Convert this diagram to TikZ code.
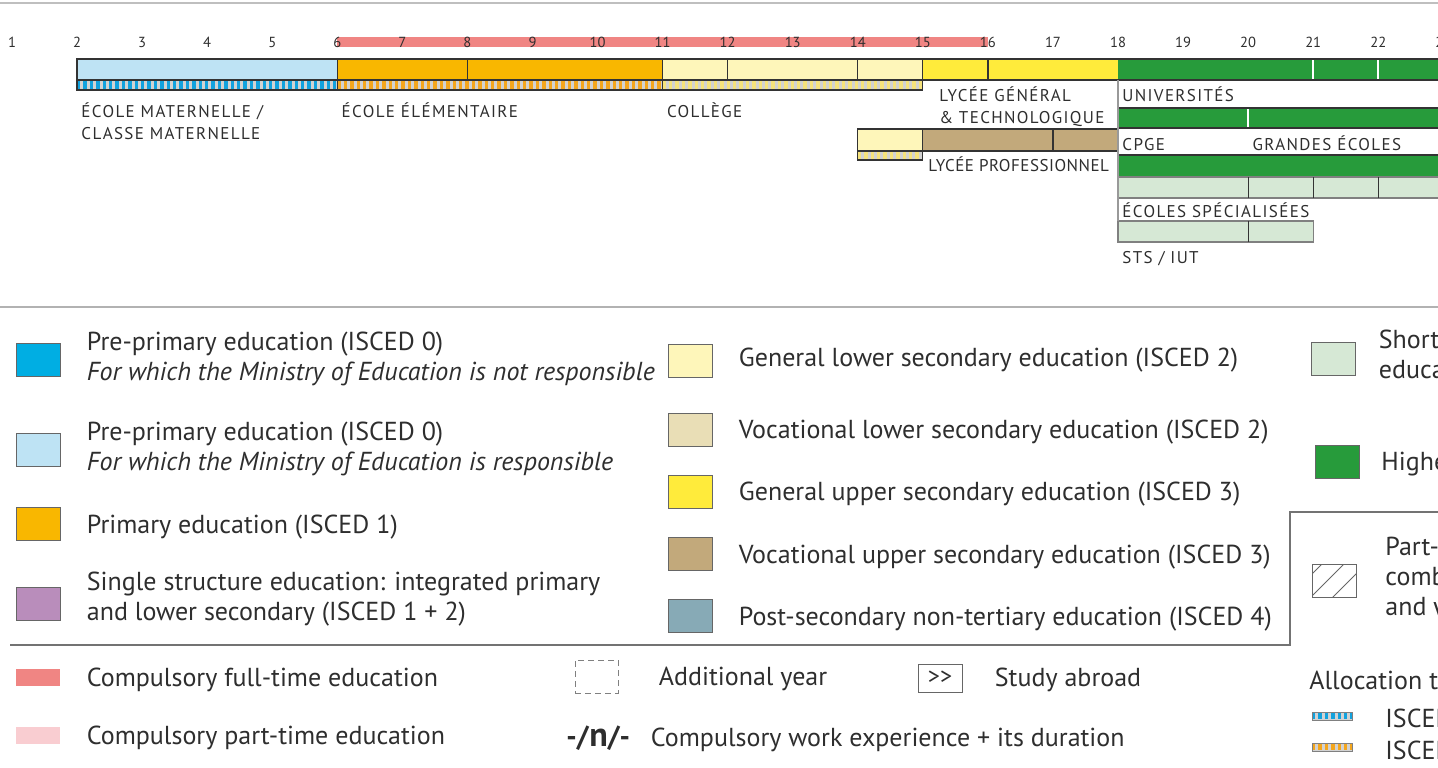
\documentclass[tikz,border=0pt]{standalone}
\usepackage{fontspec}
\setmainfont{PT Sans}
\usetikzlibrary{positioning}

\definecolor{preblue}{HTML}{00AEE3}
\definecolor{prelight}{HTML}{BEE3F4}
\definecolor{primorange}{HTML}{F9B700}
\definecolor{singlepurple}{HTML}{B98DBB}
\definecolor{lowgen}{HTML}{FEF6BA}
\definecolor{lowvoc}{HTML}{E9DEB6}
\definecolor{uppgen}{HTML}{FFEB3B}
\definecolor{uppvoc}{HTML}{C2A97B}
\definecolor{postsec}{HTML}{87AAB6}
\definecolor{shortter}{HTML}{D6E8D5}
\definecolor{highgreen}{HTML}{279B3B}
\definecolor{compfull}{HTML}{F08583}
\definecolor{comppart}{HTML}{F9CDD1}
\definecolor{stripgray}{HTML}{D2D2D2}
\definecolor{stripblue}{HTML}{12A2DE}
\definecolor{striporange}{HTML}{F4A61D}
\definecolor{stripyellow}{HTML}{F5E27C}
\definecolor{txt}{HTML}{2E2E2E}

\begin{document}
\begin{tikzpicture}[x=0.5pt, y=-0.5pt,
    bar/.style={draw=black!80, line width=0.6pt},
    strip/.style={line width=3.8pt, dash pattern=on 1.7pt off 1.5pt},
    age/.style={inner sep=0pt, text=txt, font=\fontsize{7.3}{8}\selectfont},
    lab/.style={anchor=base west, inner sep=0pt, align=left, text=txt, font=\fontsize{8.5}{11}\selectfont\addfontfeature{LetterSpace=8}},
    key/.style={draw=black!60, line width=0.5pt, minimum width=22pt, minimum height=16.5pt, inner sep=0pt},
    legtxt/.style={inner sep=0pt, align=left, text=txt, yshift=-1pt, font=\fontsize{13}{15}\selectfont}]
    \useasboundingbox (0,0) rectangle (1438,767);
    \clip (0,0) rectangle (1438,767);
    \draw[black!25, line width=1pt] (0,3) -- (1438,3);

    % Chart {ages, bars, school names}
    \begin{scope}[x=32.53pt, xshift=-26.53pt]
    \fill[compfull] (6,37) rectangle (16,47);
    \foreach \a in {1,...,23}
        \node[age] (age\a) at (\a,42) {\a};

    \fill[prelight]   (2,59)  rectangle (6,80);
    \fill[primorange] (6,59)  rectangle (11,80);
    \fill[lowgen]     (11,59) rectangle (15,80);
    \fill[uppgen]     (15,59) rectangle (18,80);
    \fill[highgreen]  (18,59) rectangle (23.5,80);
    \draw[bar] (2,59) rectangle (23.5,80);
    \foreach \a in {6,8,11,12,14,15,16}
        \draw[bar] (\a,59) -- (\a,80);
    \foreach \a in {21,22}
        \draw[white, line width=0.8pt] (\a,60) -- (\a,79);

    \fill[stripgray] (2,80) rectangle (15,90);
    \draw[strip, stripblue]   (2,85)  -- (6,85);
    \draw[strip, striporange] (6,85)  -- (11,85);
    \draw[strip, stripyellow] (11,85) -- (15,85);
    \draw[bar] (2,80) rectangle (15,90);
    \draw[bar] (6,80) -- (6,90) (11,80) -- (11,90);

    \fill[lowgen] (14,129) rectangle (15,151);
    \fill[uppvoc] (15,129) rectangle (18,151);
    \draw[bar] (14,129) rectangle (18,151);
    \draw[bar] (15,129) -- (15,151) (17,129) -- (17,151);
    \fill[stripgray] (14,151) rectangle (15,160);
    \draw[strip, stripyellow] (14,155.5) -- (15,155.5);
    \draw[bar] (14,151) rectangle (15,160);

    \fill[highgreen] (18,108) rectangle (23.5,128);
    \draw[bar] (18,108) rectangle (23.5,128);
    \draw[white, line width=0.8pt] (20,109) -- (20,127);
    \fill[highgreen] (18,155) rectangle (23.5,177);
    \fill[shortter]  (18,177) rectangle (23.5,198);
    \draw[bar] (18,155) rectangle (23.5,177);
    \draw[draw=black!50, line width=0.6pt] (18,177) rectangle (23.5,198);
    \foreach \a in {20,21,22}
        \draw[bar] (\a,177) -- (\a,198);
    \fill[shortter] (18,221) rectangle (21,242);
    \draw[draw=black!50, line width=0.6pt] (18,221) rectangle (21,242);
    \draw[bar] (20,221) -- (20,242);
    \draw[black!40, line width=0.8pt] (18,80) -- (18,221);

    \node[lab] (mat)  at ([xshift=2pt]2,139)  {ÉCOLE MATERNELLE /\\CLASSE MATERNELLE};
    \node[lab] (elem) at ([xshift=2pt]6,117)  {ÉCOLE ÉLÉMENTAIRE};
    \node[lab] (col)  at ([xshift=2pt]11,117) {COLLÈGE};
    \node[lab] (lyc)  at ([xshift=8pt]15,123) {LYCÉE GÉNÉRAL\\\& TECHNOLOGIQUE};
    \node[lab] (univ) at ([xshift=2pt]18,101) {UNIVERSITÉS};
    \node[lab] (cpge) at ([xshift=2pt]18,150) {CPGE};
    \node[lab] (gde)  at ([xshift=2pt]20,150) {GRANDES ÉCOLES};
    \node[lab, font=\fontsize{8.5}{11}\selectfont\addfontfeature{LetterSpace=3}] (pro) at ([xshift=2.5pt]15,171) {LYCÉE PROFESSIONNEL};
    \node[lab] (spec) at ([xshift=2pt]18,217) {ÉCOLES SPÉCIALISÉES};
    \node[lab] (sts)  at ([xshift=2pt]18,263) {STS / IUT};
    \end{scope}

    \draw[black!30, line width=1.2pt] (0,307) -- (1438,307);

    % Legend {keys and texts}
    \node[key, fill=preblue]      (k0no)  at (38,359.5) {};
    \node[key, fill=prelight]     (k0yes) at (38,449.5) {};
    \node[key, fill=primorange]   (k1)    at (38,524)   {};
    \node[key, fill=singlepurple] (k12)   at (38,604)   {};
    \node[legtxt, right=13pt of k0no, yshift=1.5pt]   (t0no)  {Pre-primary education (ISCED 0)\\\textit{For which the Ministry of Education is not responsible}};
    \node[legtxt, right=13pt of k0yes, yshift=1.25pt] (t0yes) {Pre-primary education (ISCED 0)\\\textit{For which the Ministry of Education is responsible}};
    \node[legtxt, right=13pt of k1, yshift=-0.5pt]    (t1)    {Primary education (ISCED 1)};
    \node[legtxt, right=13pt of k12, yshift=3.5pt]    (t12)   {Single structure education: integrated primary\\and lower secondary (ISCED 1 + 2)};

    \node[key, fill=lowgen]  (klg) at (690,361) {};
    \node[key, fill=lowvoc]  (klv) at (690,430) {};
    \node[key, fill=uppgen]  (kug) at (690,492) {};
    \node[key, fill=uppvoc]  (kuv) at (690,554) {};
    \node[key, fill=postsec] (kps) at (690,616) {};
    \node[legtxt, right=13pt of klg, yshift=1.5pt]  (tlg) {General lower secondary education (ISCED 2)};
    \node[legtxt, right=13pt of klv]                (tlv) {Vocational lower secondary education (ISCED 2)};
    \node[legtxt, right=13pt of kug]                (tug) {General upper secondary education (ISCED 3)};
    \node[legtxt, right=13pt of kuv, yshift=-0.5pt] (tuv) {Vocational upper secondary education (ISCED 3)};
    \node[legtxt, right=13pt of kps, yshift=-0.5pt] (tps) {Post-secondary non-tertiary education (ISCED 4)};

    \node[key, fill=shortter]  (kst) at (1333,359)   {};
    \node[key, fill=highgreen] (khe) at (1337.5,462) {};
    \node[key, path picture={
        \foreach \s in {-12pt,-1pt,10pt}
            \draw[black!60, line width=0.4pt] ([xshift=\s]path picture bounding box.south west) -- ++(20pt,20pt);
        }] (kpt) at (1334.5,581) {};
    \node[legtxt, right=11.5pt of kst, yshift=2pt]  (tst) {Short-cycle tertiary\\education (ISCED 5)};
    \node[legtxt, right=10.5pt of khe]              (the) {Higher education};
    \node[legtxt, right=14pt of kpt, yshift=2.25pt] (tpt) {Part-time or\\combined school\\and workplace courses};

    \draw[black!55, line width=0.8pt] (10,645) -- (1290,645) -- (1290,512) -- (1438,512);

    % Bottom row
    \node[key, draw=none, fill=compfull, minimum height=8.5pt] (kfull) at (38,677.5) {};
    \node[key, draw=none, fill=comppart, minimum height=8.5pt] (kpart) at (38,735.5) {};
    \node[legtxt, right=13pt of kfull] (tfull) {Compulsory full-time education};
    \node[legtxt, right=13pt of kpart] (tpart) {Compulsory part-time education};

    \node[key, draw=black!50, dash pattern=on 3pt off 2pt, minimum width=21.5pt] (kadd) at (596.5,676.5) {};
    \node[legtxt, right=20pt of kadd] (tadd) {Additional year};
    \node[key, minimum height=14pt, font=\fontsize{12}{14}\selectfont, text=txt] (kabr) at (940,678) {>{}>};
    \node[legtxt, right=16pt of kabr] (tabr) {Study abroad};
    \node[legtxt, anchor=west, font=\fontsize{14.5}{15}\selectfont] (kwork) at (566,736) {\textbf{-/}{\fontsize{17}{15}\selectfont\bfseries n}\textbf{/-}};
    \node[legtxt, right=10pt of kwork] (twork) {Compulsory work experience + its duration};

    \node[legtxt, anchor=west] (talloc) at (1309,678) {Allocation to the ISCED levels:};
    \fill[stripgray] (1312,712) rectangle (1352,720);
    \draw[strip, stripblue, line width=3pt] (1312,716) -- (1352,716);
    \draw[black!50, line width=0.4pt] (1312,712) rectangle (1352,720);
    \fill[stripgray] (1312,743) rectangle (1352,751);
    \draw[strip, striporange, line width=3pt] (1312,747) -- (1352,747);
    \draw[black!50, line width=0.4pt] (1312,743) rectangle (1352,751);
    \node[legtxt, anchor=west] (tis0) at (1385,716) {ISCED 0};
    \node[legtxt, anchor=west] (tis1) at (1385,748) {ISCED 1};
\end{tikzpicture}
\end{document}
